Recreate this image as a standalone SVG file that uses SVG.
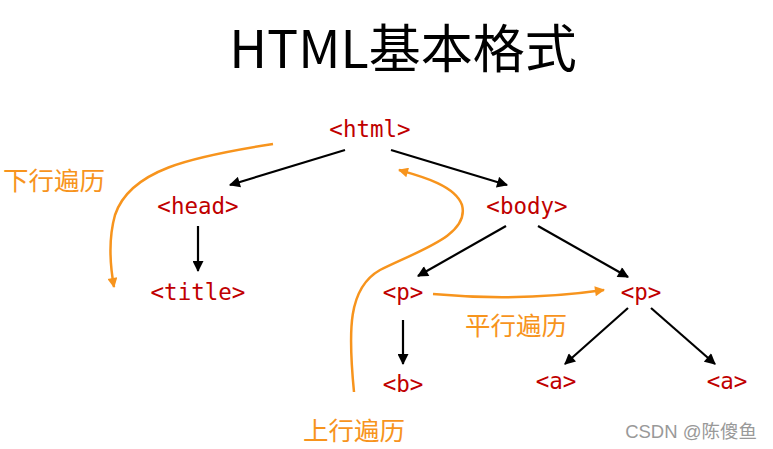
<svg xmlns="http://www.w3.org/2000/svg" width="773" height="449" viewBox="0 0 773 449">
<style>
.node{font-family:"DejaVu Sans Mono","Liberation Mono",monospace;font-size:22.5px;fill:#C00000;text-anchor:middle}
.lbl{font-family:"Noto Sans CJK SC",sans-serif;font-size:25.5px;fill:#F7941D}
.edge{stroke:#000;stroke-width:2.2;fill:none;marker-end:url(#ab)}
.trav{stroke:#F7941D;stroke-width:2.5;fill:none;marker-end:url(#ao)}
</style>
<defs>
<marker id="ab" viewBox="0 0 10 10" refX="9" refY="5" markerWidth="5.5" markerHeight="5" orient="auto" markerUnits="strokeWidth"><path d="M0,0 L10,5 L0,10 z" fill="#000"/></marker>
<marker id="ao" viewBox="0 0 10 10" refX="9" refY="5" markerWidth="4.5" markerHeight="4" orient="auto" markerUnits="strokeWidth"><path d="M0,0 L10,5 L0,10 z" fill="#F7941D"/></marker>
</defs>
<rect width="773" height="449" fill="#fff"/>
<text x="403" y="68" text-anchor="middle" font-family="Noto Sans CJK SC, sans-serif" font-size="52" fill="#000">HTML基本格式</text>
<g id="connectors">
<line class="edge" x1="345" y1="150" x2="230" y2="185"/>
<line class="edge" x1="391" y1="150" x2="507" y2="185"/>
<line class="edge" x1="198" y1="226" x2="198" y2="271"/>
<line class="edge" x1="506" y1="226" x2="418" y2="276"/>
<line class="edge" x1="538" y1="226" x2="628" y2="277"/>
<line class="edge" x1="403" y1="320" x2="403" y2="364"/>
<line class="edge" x1="628" y1="308" x2="565" y2="364"/>
<line class="edge" x1="651" y1="308" x2="715" y2="364"/>
<path class="trav" d="M273,144 C190,157 130,170 115,215 C108,240 110,265 114,287"/>
<path class="trav" d="M354,392 C348,330 348,288 380,270 C420,250 470,235 462,205 C455,185 420,176 399,170"/>
<path class="trav" d="M433,294 Q520,302 604,290"/>
</g>
<g id="n-html"><text class="node" x="370" y="137">&lt;html&gt;</text></g>
<g id="n-head"><text class="node" x="198" y="214">&lt;head&gt;</text></g>
<g id="n-body"><text class="node" x="527" y="214">&lt;body&gt;</text></g>
<g id="n-title"><text class="node" x="198" y="300">&lt;title&gt;</text></g>
<g id="n-p1"><text class="node" x="403" y="300">&lt;p&gt;</text></g>
<g id="n-p2"><text class="node" x="641" y="300">&lt;p&gt;</text></g>
<g id="n-b"><text class="node" x="403" y="392">&lt;b&gt;</text></g>
<g id="n-a1"><text class="node" x="556" y="389">&lt;a&gt;</text></g>
<g id="n-a2"><text class="node" x="727" y="389">&lt;a&gt;</text></g>
<g id="labels">
<text class="lbl" x="3" y="190">下行遍历</text>
<text class="lbl" x="303" y="440">上行遍历</text>
<text class="lbl" x="465" y="335">平行遍历</text>
</g>
<text x="757" y="438" text-anchor="end" font-family="Liberation Sans, Noto Sans CJK SC, sans-serif" font-size="18.5" fill="#999">CSDN @陈傻鱼</text>
</svg>
